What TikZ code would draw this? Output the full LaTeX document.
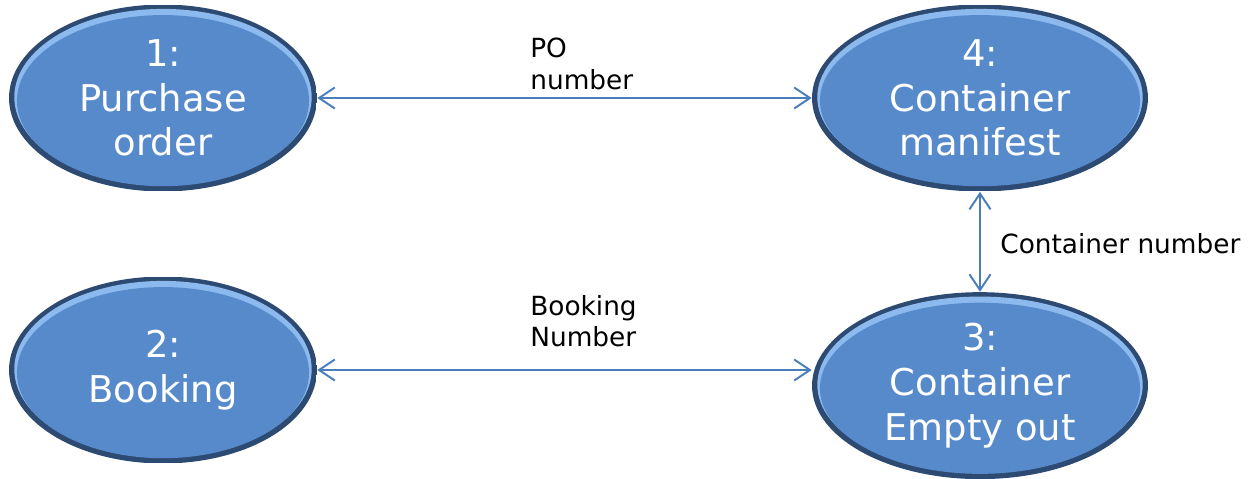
\documentclass[tikz,border=0pt]{standalone}
\usepackage{fontspec}
\setmainfont{DejaVu Sans}
\usepackage{tikz}
\usetikzlibrary{shapes.geometric,positioning,calc,arrows.meta}
\definecolor{bodyblue}{RGB}{86,138,203}
\definecolor{rimdark}{RGB}{44,74,114}
\definecolor{rimlight}{RGB}{140,185,238}
\definecolor{linkblue}{RGB}{74,126,187}

\newcommand{\stepfont}{\fontsize{21}{25.5}\selectfont}
\newcommand{\tagfont}{\fontsize{15}{18}\selectfont}

\tikzset{
  docnode/.style={ellipse, inner sep=0pt, minimum height=3.74cm, text=white,
    font=\stepfont, align=center,
    path picture={
      \fill[rimdark] (path picture bounding box.south west) rectangle (path picture bounding box.north east);
      \fill[rimlight] let \p1=($(path picture bounding box.north east)-(path picture bounding box.center)$) in
        ([yshift=0.5pt]path picture bounding box.center) ellipse ({\x1-3pt} and {\y1-3pt});
      \fill[bodyblue] let \p1=($(path picture bounding box.north east)-(path picture bounding box.center)$) in
        ([yshift=-1.5pt]path picture bounding box.center) ellipse ({\x1-4.5pt} and {\y1-4.5pt});
    }},
  link/.style={draw=linkblue, line width=1.1pt,
    {Straight Barb[length=9pt,width=12pt]}-{Straight Barb[length=9pt,width=12pt]}},
  tag/.style={inner sep=0pt, align=left, font=\tagfont, anchor=west}
}

\begin{document}
\begin{tikzpicture}[x=0.02cm, y=-0.02cm]
    \useasboundingbox (0,0) rectangle (1249,479);

    \node[docnode, minimum width=6.16cm] (po) at (163,98) {1:\\Purchase\\order};
    \node[docnode, minimum width=6.16cm] (bk) at (163,370) {2:\\Booking};
    \node[docnode, minimum width=6.72cm] (cm) at (980,98) {4:\\Container\\manifest};
    \node[docnode, minimum width=6.72cm] (ce) [below=2cm of cm] {3:\\Container\\Empty out};

    \draw[link] (po.east) -- (cm.west);
    \draw[link] (bk.east) -- (bk.east -| ce.west);
    \draw[link] (cm.south) -- (ce.north);

    \node[tag] (ponum) at (530,64) {PO\\number};
    \node[tag] (bknum) at (530,321) {Booking\\Number};
    \node[tag] (cnnum) at (1000,244) {Container number};
\end{tikzpicture}
\end{document}
